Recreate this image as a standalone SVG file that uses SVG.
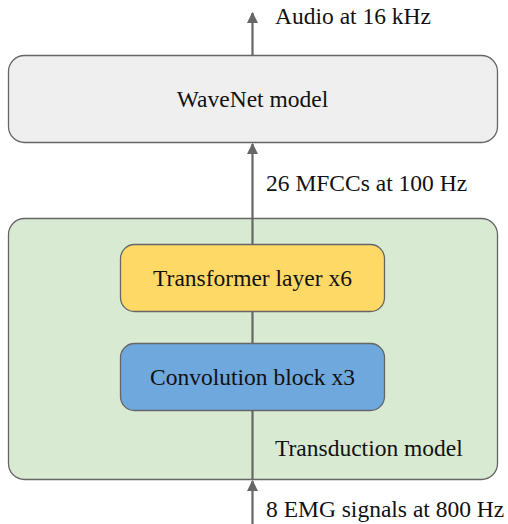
<svg xmlns="http://www.w3.org/2000/svg" width="508" height="524" viewBox="0 0 508 524">
<style>
.box{stroke:#666;stroke-width:1.3}
.t{font-family:"Liberation Serif","Times New Roman",serif;font-size:23.5px;fill:#111}
.c{text-anchor:middle}
.ln{stroke:#666;stroke-width:2.2;fill:none}
</style>
<defs>
<marker id="ah" viewBox="0 0 10 10" refX="9" refY="5" markerWidth="5" markerHeight="5.5" orient="auto" markerUnits="strokeWidth">
<path d="M0,0 L10,5 L0,10 z" fill="#666"/>
</marker>
</defs>
<rect width="508" height="524" fill="#fff"/>
<g id="wavenet">
<rect class="box" x="8.5" y="55.5" width="489" height="87" rx="16" fill="#efefef"/>
<text class="t c" x="252.5" y="107">WaveNet model</text>
</g>
<g id="transduction">
<rect class="box" x="8.5" y="218.5" width="489" height="261" rx="16" fill="#d9ead3"/>
<text class="t" x="275" y="456">Transduction model</text>
</g>
<g id="connectors">
<line class="ln" x1="252.5" y1="55" x2="252.5" y2="13" marker-end="url(#ah)"/>
<line class="ln" x1="252.5" y1="244" x2="252.5" y2="144" marker-end="url(#ah)"/>
<line class="ln" x1="252.5" y1="312" x2="252.5" y2="343"/>
<line class="ln" x1="252.5" y1="410" x2="252.5" y2="479"/>
<line class="ln" x1="252.5" y1="524" x2="252.5" y2="481" marker-end="url(#ah)"/>
</g>
<g id="transformer">
<rect class="box" x="120.5" y="244.5" width="264" height="67" rx="14" fill="#ffd966"/>
<text class="t c" x="252.5" y="286">Transformer layer x6</text>
</g>
<g id="convolution">
<rect class="box" x="120.5" y="343.5" width="264" height="67" rx="14" fill="#6fa8dc"/>
<text class="t c" x="252.5" y="385">Convolution block x3</text>
</g>
<g id="labels">
<text class="t" x="275" y="24">Audio at 16 kHz</text>
<text class="t" x="266" y="191">26 MFCCs at 100 Hz</text>
<text class="t" x="266" y="517">8 EMG signals at 800 Hz</text>
</g>
</svg>
